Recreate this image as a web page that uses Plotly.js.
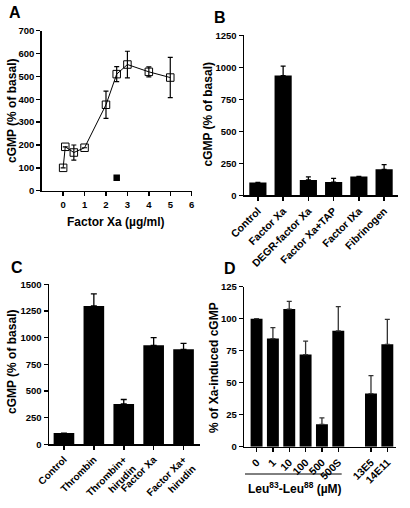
<!DOCTYPE html>
<html><head><meta charset="utf-8">
<script src="https://cdn.plot.ly/plotly-3.0.1.min.js"></script>
<style>html,body{margin:0;padding:0;background:#fff;}#chart{width:410px;height:508px;}</style>
</head><body><div id="chart"></div>
<script>
// Panel A: cGMP vs Factor Xa concentration
const A_x = [0, 0.1, 0.5, 1, 2, 2.5, 3, 4, 5];
const A_y = [100, 192, 167, 188, 376, 510, 552, 520, 495];
const A_err = [0, 0, 33, 0, 60, 33, 58, 22, 88];
const A_filled_x = [2.5];
const A_filled_y = [57];
const A_xticks = [0, 1, 2, 3, 4, 5, 6];
const A_yticks = [0, 100, 200, 300, 400, 500, 600, 700];

// Panel B
const B_labels = ["Control", "Factor Xa", "DEGR-factor Xa", "Factor Xa+TAP", "Factor IXa", "Fibrinogen"];
const B_vals = [100, 935, 120, 103, 147, 203];
const B_err = [0, 74, 24, 29, 0, 37];
const B_yticks = [0, 250, 500, 750, 1000, 1250];

// Panel C
const C_labels = ["Control", "Thrombin", "Thrombin+<br>hirudin", "Factor Xa", "Factor Xa+<br>hirudin"];
const C_vals = [105, 1297, 378, 928, 890];
const C_err = [0, 113, 42, 72, 56];
const C_yticks = [0, 250, 500, 750, 1000, 1250, 1500];

// Panel D
const D_labels = ["0", "1", "10", "100", "500", "500S", " ", "13E5", "14E11"];
const D_vals = [100, 84.5, 107.5, 72, 17.5, 90.5, null, 41.5, 80];
const D_err = [0, 8.5, 6, 10.5, 5, 19, null, 14, 19.5];
const D_yticks = [0, 25, 50, 75, 100, 125];

const W = 410, H = 508;
const px = v => v / W;
const py = v => 1 - v / H;
const FONT = "Liberation Sans, Arial, Helvetica, sans-serif";
const tickFont = {family: FONT, size: 9.5, color: "#000", weight: "bold"};
const catFont = {family: FONT, size: 10.5, color: "#000", weight: "bold"};
const catFontC = {family: FONT, size: 10, color: "#000", weight: "bold"};
const titleFont = {family: FONT, size: 12, color: "#000", weight: "bold"};
const letterFont = {family: FONT, size: 16, color: "#000", weight: "bold"};

function axisBase(extra) {
  return Object.assign({
    showline: true, linecolor: "#000", linewidth: 1.5,
    ticks: "outside", ticklen: 4, tickwidth: 1.5, tickcolor: "#000",
    showgrid: false, zeroline: false, tickfont: tickFont, fixedrange: true
  }, extra);
}

const traces = [
  {
    x: A_x, y: A_y, type: "scatter", mode: "lines+markers", xaxis: "x", yaxis: "y",
    line: {color: "#000", width: 1},
    marker: {symbol: "square-open", size: 7.5, color: "#000", line: {width: 1, color: "#000"}},
    error_y: {type: "data", array: A_err, visible: true, color: "#000", thickness: 1.2, width: 2.5}
  },
  {
    x: A_filled_x, y: A_filled_y, type: "scatter", mode: "markers", xaxis: "x", yaxis: "y",
    marker: {symbol: "square", size: 6.5, color: "#000"}
  },
  {
    x: B_labels, y: B_vals, type: "bar", xaxis: "x2", yaxis: "y2", width: 0.68,
    marker: {color: "#000", line: {width: 0}},
    error_y: {type: "data", symmetric: false, array: B_err, arrayminus: B_err.map(() => 0), color: "#000", thickness: 1.3, width: 2.5}
  },
  {
    x: C_labels, y: C_vals, type: "bar", xaxis: "x3", yaxis: "y3", width: 0.69,
    marker: {color: "#000", line: {width: 0}},
    error_y: {type: "data", symmetric: false, array: C_err, arrayminus: C_err.map(() => 0), color: "#000", thickness: 1.3, width: 3}
  },
  {
    x: D_labels, y: D_vals, type: "bar", xaxis: "x4", yaxis: "y4", width: 0.73,
    marker: {color: "#000", line: {width: 0}},
    error_y: {type: "data", symmetric: false, array: D_err, arrayminus: D_err.map(() => 0), color: "#333", thickness: 1.3, width: 2.5}
  }
];

function ann(text, x, y, font, angle) {
  return {text: text, x: x, y: y, xref: "paper", yref: "paper", showarrow: false,
    xanchor: "center", yanchor: "middle", font: font, textangle: angle || 0};
}

const layout = {
  width: W, height: H, margin: {l: 0, r: 0, t: 0, b: 0},
  paper_bgcolor: "#fff", plot_bgcolor: "#fff", showlegend: false,
  xaxis: axisBase({domain: [px(41.7), px(191.7)], range: [-1, 6], tickvals: A_xticks, anchor: "y"}),
  yaxis: axisBase({domain: [py(190.7), py(30.7)], range: [0, 700], tickvals: A_yticks, anchor: "x"}),
  xaxis2: axisBase({domain: [px(244), px(398)], range: [-0.55, 5.55], type: "category", tickangle: -45, anchor: "y2", tickfont: catFont}),
  yaxis2: axisBase({domain: [py(195.3), py(35.3)], range: [0, 1250], tickvals: B_yticks, anchor: "x2"}),
  xaxis3: axisBase({domain: [px(49), px(200)], range: [-0.5, 4.55], type: "category", tickangle: -45, anchor: "y3", tickfont: catFontC}),
  yaxis3: axisBase({domain: [py(444.3), py(284.3)], range: [0, 1500], tickvals: C_yticks, anchor: "x3"}),
  xaxis4: axisBase({domain: [px(244.3), px(395.5)], range: [-0.75, 8.5], type: "category", tickangle: -45, anchor: "y4",
    tickvals: D_labels.filter(s => s.trim() !== ""), tickfont: catFont}),
  yaxis4: axisBase({domain: [py(446.7), py(286.7)], range: [0, 125], tickvals: D_yticks, anchor: "x4"}),
  annotations: [
    ann("A", px(15), py(12.5), letterFont),
    ann("B", px(220), py(17), letterFont),
    ann("C", px(16.5), py(267.5), letterFont),
    ann("D", px(230), py(268), letterFont),
    ann("cGMP (% of basal)", px(12), py(111), titleFont, -90),
    ann("Factor Xa (µg/ml)", px(116), py(221.7), titleFont),
    ann("cGMP (% of basal)", px(207.5), py(115), titleFont, -90),
    ann("cGMP (% of basal)", px(12), py(362), titleFont, -90),
    ann("% of Xa-induced cGMP", px(214), py(368), titleFont, -90),
    ann("Leu<sup>83</sup>-Leu<sup>88</sup> (µM)", px(295), py(487.5), titleFont)
  ],
  shapes: [
    {type: "line", xref: "paper", yref: "paper", x0: px(245), x1: px(341.7), y0: py(474), y1: py(474),
      line: {color: "#000", width: 1}}
  ]
};

Plotly.newPlot("chart", traces, layout, {displayModeBar: false, staticPlot: true});
</script>
</body></html>
